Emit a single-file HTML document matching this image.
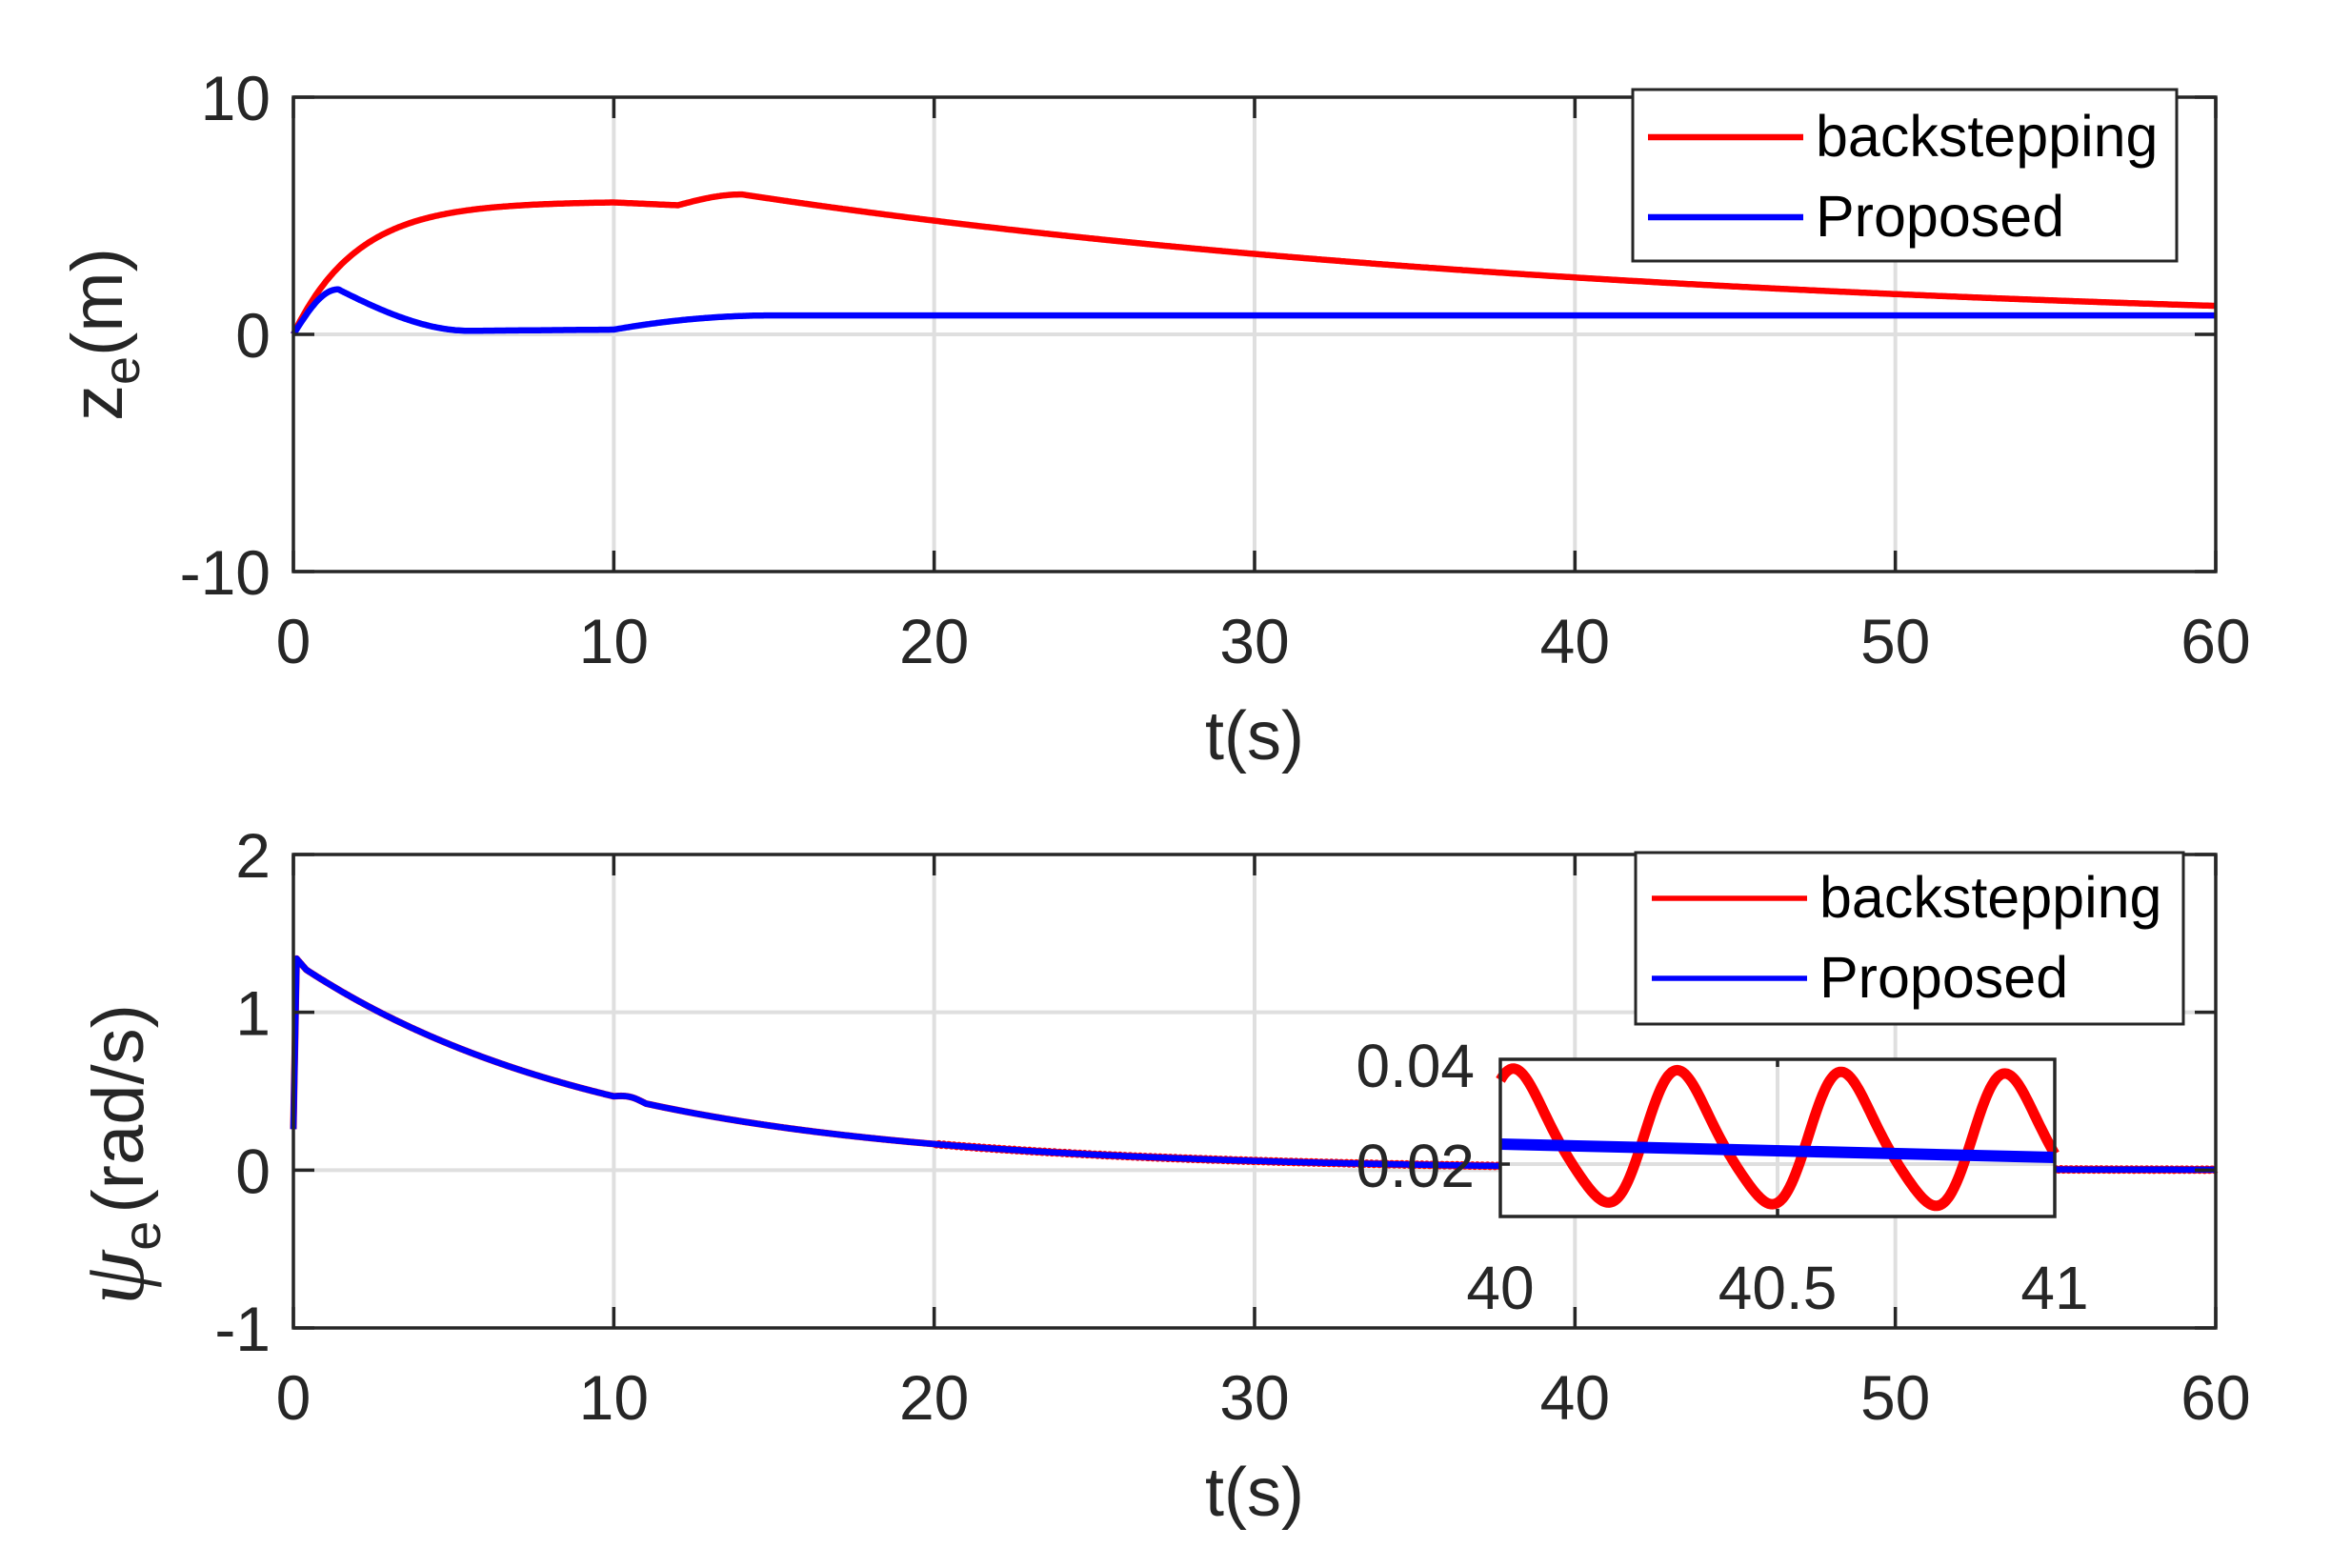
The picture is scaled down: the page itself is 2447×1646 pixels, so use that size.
<!DOCTYPE html>
<html><head><meta charset="utf-8"><style>
html,body{margin:0;padding:0;background:#fff;}
svg{display:block;}
text{font-family:"Liberation Sans",sans-serif;fill:#262626;}
</style></head><body>
<svg id="s" width="2447" height="1646" viewBox="0 0 2447 1646" xmlns="http://www.w3.org/2000/svg">
<rect width="2447" height="1646" fill="#fff"/>
<g id="grid" stroke="#dfdfdf" stroke-width="4"></g>
<path id="r1" fill="none" stroke="#ff0000" stroke-width="6.5" stroke-linejoin="round"/>
<path id="b1" fill="none" stroke="#0000ff" stroke-width="6.5" stroke-linejoin="round"/>
<path id="r2" fill="none" stroke="#ff0000" stroke-width="7" stroke-linejoin="round"/>
<path id="b2" fill="none" stroke="#0000ff" stroke-width="6.5" stroke-linejoin="round"/>
<g id="axes" stroke="#262626" stroke-width="3.5" fill="none"></g>
<g id="labels" font-size="62"></g>
<!-- top legend -->
<rect x="1714" y="94" width="571" height="180" fill="#fff" stroke="#262626" stroke-width="3"/>
<line x1="1730" y1="144" x2="1893" y2="144" stroke="#ff0000" stroke-width="6.5"/>
<line x1="1730" y1="228" x2="1893" y2="228" stroke="#0000ff" stroke-width="6.5"/>
<text x="1906" y="164" font-size="61" style="fill:#000">backstepping</text>
<text x="1906" y="248" font-size="61" style="fill:#000">Proposed</text>
<!-- bottom legend -->
<rect x="1717" y="895" width="575" height="180" fill="#fff" stroke="#262626" stroke-width="3"/>
<line x1="1734" y1="943" x2="1897" y2="943" stroke="#ff0000" stroke-width="5.5"/>
<line x1="1734" y1="1027" x2="1897" y2="1027" stroke="#0000ff" stroke-width="5.5"/>
<text x="1910" y="963" font-size="61" style="fill:#000">backstepping</text>
<text x="1910" y="1047" font-size="61" style="fill:#000">Proposed</text>
<!-- inset -->
<rect x="1575" y="1112" width="582" height="165" fill="#fff"/>
<line x1="1866" y1="1112" x2="1866" y2="1277" stroke="#dfdfdf" stroke-width="4"/>
<line x1="1575" y1="1222" x2="2157" y2="1222" stroke="#dfdfdf" stroke-width="4"/>
<path id="ri" fill="none" stroke="#ff0000" stroke-width="11" stroke-linejoin="round"/>
<line x1="1575" y1="1201" x2="2157" y2="1215" stroke="#0000ff" stroke-width="12"/>
<rect x="1575" y="1112" width="582" height="165" fill="none" stroke="#262626" stroke-width="3.5"/>
<line x1="1575" y1="1222" x2="1585" y2="1222" stroke="#262626" stroke-width="3.5"/>
<line x1="1866" y1="1112" x2="1866" y2="1120" stroke="#262626" stroke-width="3.5"/>
<line x1="1866" y1="1277" x2="1866" y2="1269" stroke="#262626" stroke-width="3.5"/>
<text x="1548" y="1141" font-size="64" text-anchor="end">0.04</text>
<text x="1548" y="1246" font-size="64" text-anchor="end">0.02</text>
<text x="1575" y="1374" font-size="64" text-anchor="middle">40</text>
<text x="1866" y="1374" font-size="64" text-anchor="middle">40.5</text>
<text x="2157" y="1374" font-size="64" text-anchor="middle">41</text>
</svg>
<script>
(function(){
var NS="http://www.w3.org/2000/svg";
function el(p,t,a,txt){var e=document.createElementNS(NS,t);for(var k in a)e.setAttribute(k,a[k]);if(txt!==undefined)e.textContent=txt;p.appendChild(e);return e;}
var L=308,R=2326;
function X(t){return L+(R-L)*t/60;}
var grid=document.getElementById('grid'),axes=document.getElementById('axes'),lab=document.getElementById('labels');
var T1=102,B1=600; function Y1(v){return T1+(10-v)*(B1-T1)/20;}
var T2=897,B2=1394; function Y2(v){return T2+(2-v)*(B2-T2)/3;}
for(var i=1;i<6;i++){el(grid,'line',{x1:X(i*10),y1:T1,x2:X(i*10),y2:B1});el(grid,'line',{x1:X(i*10),y1:T2,x2:X(i*10),y2:B2});}
el(grid,'line',{x1:L,y1:Y1(0),x2:R,y2:Y1(0)});
el(grid,'line',{x1:L,y1:Y2(1),x2:R,y2:Y2(1)});el(grid,'line',{x1:L,y1:Y2(0),x2:R,y2:Y2(0)});
[[T1,B1],[T2,B2]].forEach(function(tb,idx){
 var T=tb[0],B=tb[1];
 el(axes,'rect',{x:L,y:T,width:R-L,height:B-T});
 for(var i=0;i<=6;i++){var x=X(i*10);el(axes,'line',{x1:x,y1:B,x2:x,y2:B-22});el(axes,'line',{x1:x,y1:T,x2:x,y2:T+22});
  el(lab,'text',{x:x,y:B+96,'text-anchor':'middle','font-size':66},String(i*10));}
 var vals=idx==0?[10,0,-10]:[2,1,0,-1];
 vals.forEach(function(v){var y=idx==0?Y1(v):Y2(v);el(axes,'line',{x1:L,y1:y,x2:L+22,y2:y});el(axes,'line',{x1:R,y1:y,x2:R-22,y2:y});
  el(lab,'text',{x:L-24,y:y+24,'text-anchor':'end','font-size':66},String(v));});
 el(lab,'text',{x:(L+R)/2,y:B+197,'text-anchor':'middle','font-size':72},'t(s)');
});
var g1=el(lab,'text',{transform:'translate(128,351) rotate(-90)','text-anchor':'middle','font-size':76});
g1.innerHTML='z<tspan font-size="54" dy="18">e</tspan><tspan dy="-18">(m)</tspan>';
var g2=el(lab,'text',{transform:'translate(150,1212) rotate(-90)','text-anchor':'middle','font-size':76});
g2.innerHTML='<tspan font-family="Liberation Serif" font-style="italic" font-size="92">ψ</tspan><tspan font-size="56" dy="18">e</tspan><tspan dy="-18" dx="8">(rad/s)</tspan>';
function path(f,Y,t0,t1,n){var d='';for(var i=0;i<=n;i++){var t=t0+(t1-t0)*i/n;d+=(i?'L':'M')+X(t).toFixed(1)+','+Y(f(t)).toFixed(1);}return d;}
function red1(t){
 if(t<=10)return 5.6*(1-Math.exp(-t/2.0));
 var a=5.6*(1-Math.exp(-5));
 if(t<=12)return a-0.12*(t-10)/2;
 if(t<=14){var s=(t-12)/2;return a-0.12+(5.9-a+0.12)*Math.sin(s*Math.PI/2);}
 return 5.9*Math.exp(-(t-14)*0.0346);}
function blue1(t){
 if(t<=1.4)return 1.9*Math.sin(t/1.4*Math.PI/2);
 if(t<=5.5){var s=(t-1.4)/4.1;return 0.15+1.75*(1-s)*(1-s)*(1+0.4*s);}
 if(t<=10)return 0.15+0.05*(t-5.5)/4.5;
 if(t<=15){var s=(t-10)/5;return 0.2+0.6*(1-Math.pow(1-s,2));}
 return 0.8;}
document.getElementById('r1').setAttribute('d',path(red1,Y1,0,60,1200));
document.getElementById('b1').setAttribute('d',path(blue1,Y1,0,60,1200));
function psi(t){
 if(t<0.1)return 0.26+(1.34-0.26)*t/0.1;
 if(t<0.4)return 1.34-(1.34-1.27)*(t-0.1)/0.3;
 var v=1.27*Math.exp(-(t-0.4)*0.104);
 if(t>10&&t<11)v+=0.02*Math.sin((t-10)*Math.PI);
 return v;}
function psiR(t){var v=psi(t);if(t>20)v+=0.006*Math.sin(t*40);return v;}
document.getElementById('r2').setAttribute('d',path(psiR,Y2,0,60,2400));
document.getElementById('b2').setAttribute('d',path(psi,Y2,0,60,1200));
var d='';for(var x=1575;x<=2157;x+=2){var th=2*Math.PI*(x-1600)/172;
 var y=1195-66*Math.cos(th)+14*Math.sin(th)+10*Math.sin(2*th)+(x-1575)*0.01;
 d+=(x==1575?'M':'L')+x+','+y.toFixed(1);}
document.getElementById('ri').setAttribute('d',d);
})();
</script>
</body></html>
